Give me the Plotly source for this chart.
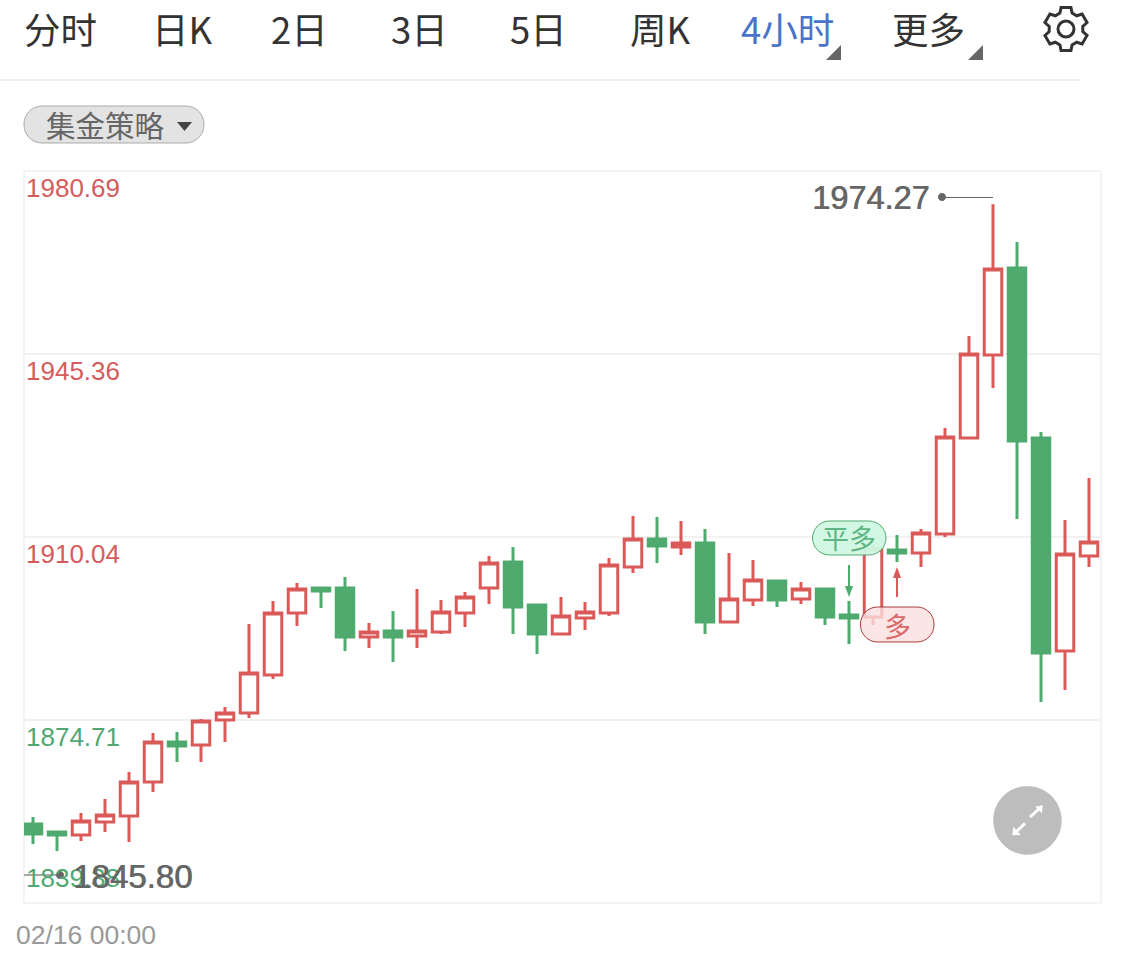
import math
import plotly.graph_objects as go

# ---- data ----
bar_index = list(range(45))
opens = [1854.64,1853.10,1852.52,1855.03,1856.19,1862.75,1870.47,1869.89,1874.72,1876.07,
         1883.40,1895.37,1900.20,1900.20,1890.74,1891.90,1890.93,1891.70,1895.37,1900.20,
         1905.22,1896.92,1891.32,1894.41,1895.37,1904.25,1909.66,1908.11,1908.88,1893.63,
         1897.88,1901.55,1898.07,1900.00,1894.99,1894.60,1907.53,1906.95,1910.62,1929.15,
         1945.17,1961.97,1929.15,1888.03,1906.37]
highs = [1855.99,1853.10,1856.77,1859.47,1864.68,1872.21,1872.40,1874.91,1877.23,1893.25,
         1897.69,1901.16,1900.20,1902.32,1893.44,1895.76,1900.00,1897.88,1899.42,1906.37,
         1908.11,1897.11,1898.46,1897.49,1905.99,1914.10,1913.90,1913.13,1911.59,1906.95,
         1905.60,1901.74,1901.36,1900.00,1897.69,1908.50,1910.43,1911.59,1931.08,1948.84,
         1974.27,1966.99,1930.31,1913.32,1921.43]
lows = [1850.78,1849.43,1851.36,1853.10,1851.17,1860.82,1866.61,1866.61,1870.47,1875.10,
        1882.63,1892.86,1896.34,1888.03,1888.62,1885.91,1888.62,1891.32,1892.67,1897.11,
        1891.32,1887.46,1891.12,1892.09,1894.79,1903.09,1905.02,1906.57,1891.32,1893.44,
        1896.72,1896.53,1897.11,1893.05,1889.39,1893.05,1905.22,1904.25,1910.04,1928.96,
        1938.80,1913.52,1878.19,1880.51,1904.25]
closes = [1852.71,1852.52,1855.22,1856.38,1862.75,1870.47,1869.70,1874.52,1876.07,1883.79,
          1895.37,1900.00,1899.62,1890.74,1891.70,1890.74,1891.90,1895.56,1898.46,1905.02,
          1896.53,1891.32,1894.79,1895.56,1904.64,1909.66,1908.30,1908.88,1893.63,1898.07,
          1901.74,1897.88,1900.00,1894.60,1894.41,1907.73,1906.95,1910.81,1929.34,1945.36,
          1961.77,1928.57,1887.65,1906.76,1909.08]
axis_prices = [1980.69,1945.36,1910.04,1874.71,1839.38]
axis_labels = ["1980.69","1945.36","1910.04","1874.71","1839.38"]
period_tabs = ["分时","日K","2日","3日","5日","周K","4小时","更多"]
max_label = "1974.27"
min_label = "1845.80"
start_label = "02/16 00:00"

RED = "#DA5A5A"
GREEN = "#4FAA6E"
RED_TEXT = "#D45C5C"
GREEN_TEXT = "#4FA873"
GRID = "#F1F1F1"
CJK = "Noto Sans CJK SC"
LATIN = "Liberation Sans"

W, H = 1125, 957
L, R, T, B = 24, 1101, 171, 903
def px(x): return (x - L) / (R - L)
def py(y): return (B - y) / (B - T)

def rrect(x0, y0, x1, y1, r):
    k = 0.55 * r
    seg_ = [
        ("M", (x0 + r, y0)), ("L", (x1 - r, y0)),
        ("C", (x1 - r + k, y0), (x1, y0 + r - k), (x1, y0 + r)),
        ("L", (x1, y1 - r)),
        ("C", (x1, y1 - r + k), (x1 - r + k, y1), (x1 - r, y1)),
        ("L", (x0 + r, y1)),
        ("C", (x0 + r - k, y1), (x0, y1 - r + k), (x0, y1 - r)),
        ("L", (x0, y0 + r)),
        ("C", (x0, y0 + r - k), (x0 + r - k, y0), (x0 + r, y0)),
    ]
    out = ""
    for s in seg_:
        out += s[0] + " ".join(f"{px(a):.5f},{py(b):.5f}" for a, b in s[1:]) + " "
    return out + "Z"

def poly(points):
    return "M" + " L".join(f"{px(a):.5f},{py(b):.5f}" for a, b in points) + " Z"

def shape_path(path, fill="rgba(0,0,0,0)", line=None, width=1):
    return dict(type="path", xref="paper", yref="paper", path=path, fillcolor=fill,
                line=dict(color=line or "rgba(0,0,0,0)", width=width if line else 0), layer="above")

def seg(x0, y0, x1, y1, color, width):
    return dict(type="line", xref="paper", yref="paper", x0=px(x0), y0=py(y0), x1=px(x1), y1=py(y1),
                line=dict(color=color, width=width), layer="above")

def label(text, x, y, size, color, family=CJK, anchor="center", weight=None, shadow=None):
    font = dict(family=family, size=size, color=color)
    if weight:
        font["weight"] = weight
    if shadow:
        font["shadow"] = shadow
    return dict(text=text, xref="paper", yref="paper", x=px(x), y=py(y), showarrow=False,
                xanchor=anchor, yanchor="middle", font=font)

fig = go.Figure(go.Candlestick(
    x=bar_index, open=opens, high=highs, low=lows, close=closes,
    increasing=dict(line=dict(color=RED, width=3), fillcolor="white"),
    decreasing=dict(line=dict(color=GREEN, width=3), fillcolor=GREEN),
    whiskerwidth=0, hoverinfo="skip", showlegend=False,
))

shapes, ann = [], []

# plot frame
shapes.append(dict(type="rect", xref="paper", yref="paper", x0=0, y0=0, x1=1, y1=1,
                   line=dict(color=GRID, width=1.5), layer="below"))

# toolbar
tab_x = [60, 182, 299, 419, 538, 660, 787, 928]
for name, x in zip(period_tabs, tab_x):
    ann.append(label(name, x, 28, 36.5, "#4A74C9" if name == "4小时" else "#333333"))
shapes.append(shape_path(poly([(826, 60), (841, 60), (841, 45)]), "#666666"))
shapes.append(shape_path(poly([(968, 60), (983, 60), (983, 45)]), "#666666"))
shapes.append(seg(0, 80, 1080, 80, "#F1F1F1", 2))

# gear icon
cx, cy = 1066, 29
gear = []
for i in range(6):
    a = math.radians(60 * i - 90)
    for d, rad in [(-21, 17), (-13, 22), (13, 22), (21, 17)]:
        b = a + math.radians(d)
        gear.append((cx + rad * math.cos(b), cy + rad * math.sin(b)))
shapes.append(shape_path(poly(gear), line="#333333", width=3))
shapes.append(shape_path(rrect(cx - 8, cy - 8, cx + 8, cy + 8, 8), line="#333333", width=3))

# strategy button
shapes.append(shape_path(rrect(24, 106, 204, 143, 18), "#E3E3E3", "#ABABAB", 1))
ann.append(label("集金策略", 105, 124, 29.5, "#666666"))
shapes.append(shape_path(poly([(177, 122), (192, 122), (184.5, 131)]), "#444444"))

# y labels
label_y = [188, 371, 554, 737, 878]
for i, (t, y) in enumerate(zip(axis_labels, label_y)):
    ann.append(label(t, 24, y, 26, RED_TEXT if i < 3 else GREEN_TEXT, LATIN, "left"))

# max / min
shapes.append(seg(942, 197.5, 993, 197.5, "#666666", 1))
shapes.append(shape_path(rrect(938, 193, 946, 201, 4), "#666666"))
ann.append(label(max_label, 810, 198, 32.5, "#666666", LATIN, "left", shadow="0.7px 0 0 #666666"))
shapes.append(seg(24, 875, 62, 875, "#555555", 1.2))
shapes.append(shape_path(rrect(56, 871, 64, 879, 4), "#666666"))
ann.append(label(min_label, 71, 876, 33, "#666666", LATIN, "left", shadow="0.7px 0 0 #666666"))
ann.append(label(start_label, 14, 935, 26.5, "#999999", LATIN, "left"))

# trade markers
shapes.append(shape_path(rrect(812.5, 521, 886, 555, 17), "rgba(208,248,226,0.95)", "#4FAA6E", 1))
ann.append(label("平多", 849, 537, 27, "#5FB583"))
shapes.append(seg(849, 565, 849, 590, GREEN, 2))
shapes.append(shape_path(poly([(845, 586), (853, 586), (849, 597)]), GREEN))
shapes.append(shape_path(rrect(860.5, 607, 934, 642, 17), "rgba(250,222,222,0.8)", "#A83A3A", 1))
ann.append(label("多", 897, 625, 27, "#DA6A6A"))
shapes.append(seg(897, 597, 897, 574, RED, 2))
shapes.append(shape_path(poly([(893, 578), (901, 578), (897, 567)]), RED))

# expand button
shapes.append(shape_path(rrect(993.3, 786, 1061.7, 854.7, 34.3), "#BDBDBD"))
shapes.append(seg(1030, 817, 1039, 809, "white", 3))
shapes.append(shape_path(poly([(1042.7, 805.3), (1035, 806.7), (1042, 813.3)]), "white"))
shapes.append(seg(1025, 823.3, 1016, 832, "white", 3))
shapes.append(shape_path(poly([(1012.3, 835.3), (1013.3, 826.7), (1020.7, 835)]), "white"))

fig.update_layout(
    width=W, height=H,
    margin=dict(l=L, r=W - R, t=T, b=H - B, pad=0),
    paper_bgcolor="white", plot_bgcolor="white",
    boxgap=0.27, boxgroupgap=0, showlegend=False, hovermode=False,
    shapes=shapes, annotations=ann,
    xaxis=dict(range=[-0.375, 44.5], rangeslider=dict(visible=False), showgrid=False,
               showticklabels=False, ticks="", zeroline=False, showline=False),
    yaxis=dict(range=[axis_prices[-1], axis_prices[0]], tickvals=axis_prices, showticklabels=False,
               ticks="", showgrid=True, gridcolor=GRID, gridwidth=1.5, zeroline=False,
               showline=False),
)

fig.write_html("out.html", config=dict(displayModeBar=False),
               post_script="document.body.style.margin='0';document.body.style.overflow='hidden';")
